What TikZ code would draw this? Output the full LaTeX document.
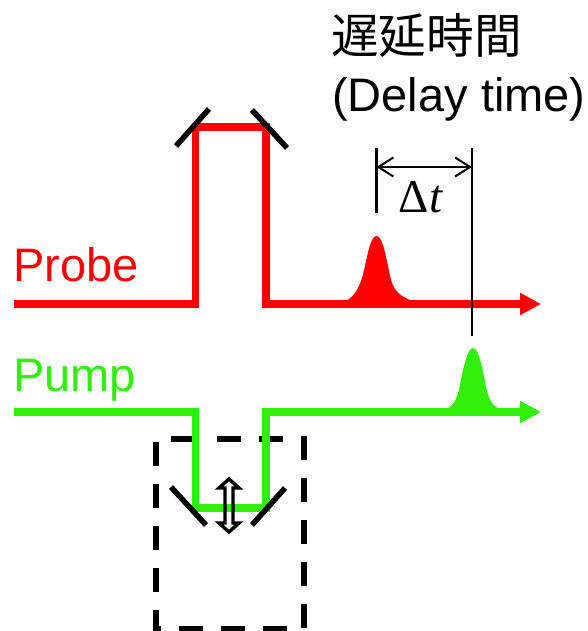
\documentclass[tikz,border=0pt]{standalone}
\usepackage{fontspec}
\setmainfont{Liberation Sans}
\newfontfamily\cjk{Noto Sans CJK JP}
\newfontfamily\serifit{Liberation Serif}
\usetikzlibrary{arrows.meta}
\definecolor{pumpgreen}{RGB}{48,240,10}
\tikzset{
  x=1pt,y=-1pt,
  beam/.style={line width=7.5pt,line join=miter},
  mirror/.style={line width=5.5pt,black},
  guide/.style={line width=2.5pt,black},
  biglabel/.style={inner sep=0pt,anchor=base west,font=\fontsize{47}{47}\selectfont},
  beamarrow/.style={-{Triangle[length=21pt,width=21pt]}},
}
\begin{document}
\begin{tikzpicture}
\useasboundingbox (0,0) rectangle (588,631);
% labels
\node[biglabel,font=\fontsize{47.6}{47.6}\selectfont] (title) at (331,54) {\cjk 遅延時間};
\node[biglabel] (delay) at (332,112) {(Delay time)};
\node[biglabel,text=red] (probe) at (13,281) {Probe};
\node[biglabel,text=pumpgreen] (pump) at (13,391) {Pump};
\node[inner sep=0pt,anchor=base,font=\fontsize{47}{47}\selectfont\serifit] (dt) at (421,212) {Δ\textit{t}};
% dashed box
\draw[line width=5.5pt,dash pattern=on 24pt off 18pt,black] (175,439) -- (304,439) -- (304,629) -- (156,629) -- (156,439) -- (175,439);
% red beam
\coordinate (r0) at (14,304); \coordinate (r1) at (195.5,304); \coordinate (r2) at (195.5,127);
\coordinate (r3) at (266,127); \coordinate (r4) at (266,304); \coordinate (r5) at (541,304);
\draw[beam,red,beamarrow] (r0) -- (r1) -- (r2) -- (r3) -- (r4) -- (r5);
% green beam
\coordinate (g0) at (14,412); \coordinate (g1) at (195.5,412); \coordinate (g2) at (195.5,508);
\coordinate (g3) at (266,508); \coordinate (g4) at (266,412); \coordinate (g5) at (541,412);
\draw[beam,pumpgreen,beamarrow] (g0) -- (g1) -- (g2) -- (g3) -- (g4) -- (g5);
% mirrors
\draw[mirror] (176,146) -- (209,109);
\draw[mirror] (252,110) -- (287,148);
\draw[mirror] (171,487) -- (206,525);
\draw[mirror] (252,525) -- (285,488);
% pulses
\fill[red] (346,304) -- (346,301) .. controls (351,298) and (355,294) .. (358,288) .. controls (362,280) and (363,274) .. (365,266) .. controls (368,252) and (371,236) .. (376.5,236) .. controls (382,236) and (385,252) .. (388,266) .. controls (390,276) and (391,283) .. (395,289) .. controls (399,295) and (406,299) .. (413,301) -- (413,304) -- cycle;
\fill[pumpgreen] (447,412) -- (447,409) .. controls (452,406) and (455,402) .. (457,396) .. controls (460,388) and (461,378) .. (463,370) .. controls (466,358) and (469,348) .. (473,348) .. controls (477,348) and (480,358) .. (483,371) .. controls (485,380) and (486,390) .. (489,397) .. controls (491,403) and (495,407) .. (500,409) -- (500,412) -- cycle;
% delay guides
\coordinate (la) at (376.5,148); \coordinate (lb) at (376.5,213);
\coordinate (ra) at (472,148); \coordinate (rb) at (472,336);
\coordinate (ma) at (376.5,167); \coordinate (mb) at (472,167);
\draw[guide] (la) -- (lb);
\draw[guide] (ra) -- (rb);
\draw[line width=2pt,black,{Straight Barb[length=15pt,width=19pt]}-{Straight Barb[length=15pt,width=19pt]}] (ma) -- (mb);
% hollow double arrow
\draw[line width=3.4pt,black,line join=miter] (229,479) -- (219,488) -- (225,488) -- (225,523) -- (219,523) -- (229,532) -- (239,523) -- (233,523) -- (233,488) -- (239,488) -- cycle;
\end{tikzpicture}
\end{document}
